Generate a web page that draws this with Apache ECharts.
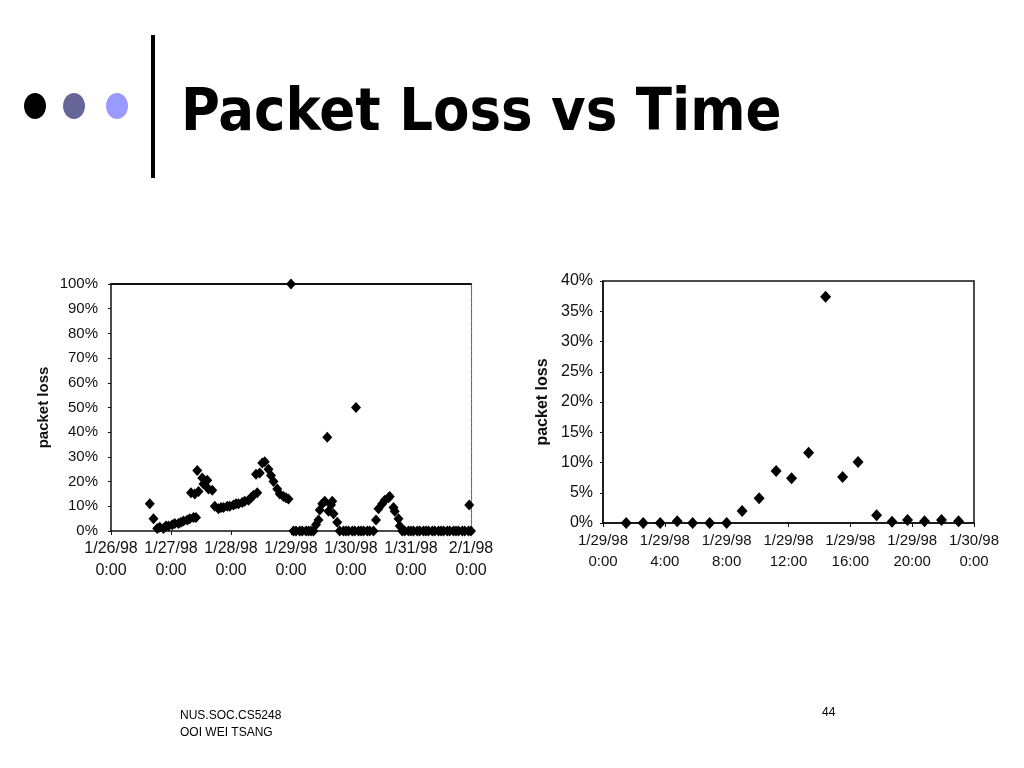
<!DOCTYPE html>
<html>
<head>
<meta charset="utf-8">
<script src="https://cdn.jsdelivr.net/npm/echarts@6/dist/echarts.min.js"></script>
<style>
html,body{margin:0;padding:0;background:#fff;}
#chart{width:1024px;height:768px;}
</style>
</head>
<body>
<div id="chart"></div>
<script>
// ---- Left chart: packet loss, 1/26/98 - 2/1/98 (hours since 1/26/98 0:00) ----
var leftHours = [
  15.5,17,18.5,19.5,21,22,23,24.5,25.5,27,28,29,30.5,31.5,33,34,
  32,33.5,34.5,35,36.5,37,38.5,39,40.5,
  41.5,43,44,45,46.5,47.5,49,50,51,52.5,53.5,55,56,57,58.5,
  58,59.5,60.5,61.5,63,64,65,66.5,67.5,69,70,71,72,
  73,74,75.5,76.5,78,79,80,81,
  82,83,83.5,84.5,85.5,86.5,87,88,88.5,89,90.5,
  91.5,93,94,95,96.5,97.5,98,99,100,101,102.5,103.5,105,
  106,107,108.5,109.5,111,111.5,113,113.5,115,115.5,
  116.5,117.5,119,120,121,122.5,123.5,125,126,127,128.5,129.5,131,132,133,134.5,135.5,137,138,139,140.5,141.5,143,143.3,144
];
var leftLoss = [
  11,5,1,1.5,1,2,2,2.5,3,3,3.5,4,4.5,5,5.5,5.5,
  15.5,15,24.5,16,21.5,19,20.5,17,16.5,
  10,9,9.5,9.5,10,10,10.5,11,11,11.5,12,12.5,13.5,14.5,15.5,
  23,23.5,27.5,28,25,22.5,20,17,15,14,13.5,13,100,
  0,0,0,0,0,0,0,0,
  2.5,4.5,8.5,11,12,38,8,10.5,12,7,3.5,
  0,0,0,0,0,0,50,0,0,0,0,0,0,
  4.5,9,11,12.5,13.5,14,9.5,8,5,2,
  0,0,0,0,0,0,0,0,0,0,0,0,0,0,0,0,0,0,0,0,0,0,0,10.5,0
];
var leftTickLabels = ['1/26/98\n0:00','1/27/98\n0:00','1/28/98\n0:00','1/29/98\n0:00','1/30/98\n0:00','1/31/98\n0:00','2/1/98\n0:00'];

// ---- Right chart: packet loss on 1/29/98 (hours since 1/29/98 0:00) ----
var rightHours = [1.5,2.6,3.7,4.8,5.8,6.9,8,9,10.1,11.2,12.2,13.3,14.4,15.5,16.5,17.7,18.7,19.7,20.8,21.9,23];
var rightLoss  = [0,0,0,0.3,0,0,0,2,4.1,8.6,7.4,11.6,37.4,7.6,10.1,1.3,0.2,0.5,0.3,0.5,0.3];
var rightTickLabels = ['1/29/98\n0:00','1/29/98\n4:00','1/29/98\n8:00','1/29/98\n12:00','1/29/98\n16:00','1/29/98\n20:00','1/30/98\n0:00'];

var titleText = 'Packet Loss vs Time';
var footerLines = ['NUS.SOC.CS5248', 'OOI WEI TSANG'];
var pageNumber = '44';

function zip(a, b) { return a.map(function (v, i) { return [v, b[i]]; }); }

var FONT = '"Liberation Sans", Arial, sans-serif';
var labelStyle = { color: '#111', fontFamily: FONT, fontSize: 15 };

var chart = echarts.init(document.getElementById('chart'), null, { renderer: 'canvas' });
chart.setOption({
  animation: false,
  backgroundColor: '#fff',
  grid: [
    { left: 111, top: 284, width: 360, height: 247, show: false },
    { left: 603, top: 281, width: 371, height: 242, show: true, borderColor: '#111', borderWidth: 1.5, backgroundColor: 'transparent' }
  ],
  xAxis: [
    {
      gridIndex: 0, type: 'value', min: 0, max: 144, interval: 24,
      axisLine: { lineStyle: { color: '#111', width: 1.5 } },
      axisTick: { show: true, length: 4, lineStyle: { color: '#111' } },
      splitLine: { show: false },
      axisLabel: Object.assign({}, labelStyle, { margin: 7, lineHeight: 22, fontSize: 16,
        formatter: function (v) { return leftTickLabels[Math.round(v / 24)]; } })
    },
    {
      gridIndex: 0, type: 'value', min: 0, max: 144, position: 'top',
      axisLine: { show: true, onZero: false, lineStyle: { color: '#111', width: 2 } },
      axisTick: { show: false }, axisLabel: { show: false }, splitLine: { show: false }
    },
    {
      gridIndex: 1, type: 'value', min: 0, max: 24, interval: 4,
      axisLine: { lineStyle: { color: '#111', width: 1.5 } },
      axisTick: { show: true, length: 4, lineStyle: { color: '#111' } },
      splitLine: { show: false },
      axisLabel: Object.assign({}, labelStyle, { margin: 7, lineHeight: 21,
        formatter: function (v) { return rightTickLabels[Math.round(v / 4)]; } })
    }
  ],
  yAxis: [
    {
      gridIndex: 0, type: 'value', min: 0, max: 100, interval: 10,
      name: 'packet loss', nameLocation: 'middle', nameGap: 60,
      nameTextStyle: { color: '#111', fontFamily: FONT, fontSize: 15, fontWeight: 'bold' },
      axisLine: { show: true, lineStyle: { color: '#111', width: 1.5 } },
      axisTick: { show: true, length: 3, lineStyle: { color: '#111' } },
      splitLine: { show: false },
      axisLabel: Object.assign({}, labelStyle, { margin: 13, formatter: '{value}%' })
    },
    {
      gridIndex: 0, type: 'value', min: 0, max: 100, position: 'right',
      axisLine: { show: true, onZero: false, lineStyle: { color: '#666', width: 1.2, type: 'dotted' } },
      axisTick: { show: false }, axisLabel: { show: false }, splitLine: { show: false }
    },
    {
      gridIndex: 1, type: 'value', min: 0, max: 40, interval: 5,
      name: 'packet loss', nameLocation: 'middle', nameGap: 52,
      nameTextStyle: { color: '#111', fontFamily: FONT, fontSize: 16, fontWeight: 'bold' },
      axisLine: { show: true, lineStyle: { color: '#111', width: 1.5 } },
      axisTick: { show: true, length: 3, lineStyle: { color: '#111' } },
      splitLine: { show: false },
      axisLabel: Object.assign({}, labelStyle, { margin: 10, fontSize: 16, formatter: '{value}%' })
    }
  ],
  series: [
    {
      type: 'scatter', xAxisIndex: 0, yAxisIndex: 0, clip: false,
      symbol: 'diamond', symbolSize: [10, 11],
      itemStyle: { color: '#000', opacity: 1 },
      data: zip(leftHours, leftLoss)
    },
    {
      type: 'scatter', xAxisIndex: 2, yAxisIndex: 2, clip: false,
      symbol: 'diamond', symbolSize: [11, 12],
      itemStyle: { color: '#000', opacity: 1 },
      data: zip(rightHours, rightLoss)
    }
  ],
  graphic: [
    { type: 'ellipse', shape: { cx: 35, cy: 106, rx: 11, ry: 13 }, style: { fill: '#000' } },
    { type: 'ellipse', shape: { cx: 74, cy: 106, rx: 11, ry: 13 }, style: { fill: '#666699' } },
    { type: 'ellipse', shape: { cx: 117, cy: 106, rx: 11, ry: 13 }, style: { fill: '#9999ff' } },
    { type: 'line', shape: { x1: 153, y1: 35, x2: 153, y2: 178 }, style: { stroke: '#000', lineWidth: 4 } },
    { type: 'text', left: 181, top: 85, style: { text: titleText, fill: '#000', font: 'bold 59px "DejaVu Sans Condensed", "Liberation Sans", Arial, sans-serif' } },
    { type: 'text', left: 180, top: 707, style: { text: footerLines.join('\n'), fill: '#000', font: '12px "Liberation Sans", Arial, sans-serif', lineHeight: 17 } },
    { type: 'text', left: 822, top: 707, style: { text: pageNumber, fill: '#000', font: '12px "Liberation Sans", Arial, sans-serif' } }
  ]
});
</script>
</body>
</html>
